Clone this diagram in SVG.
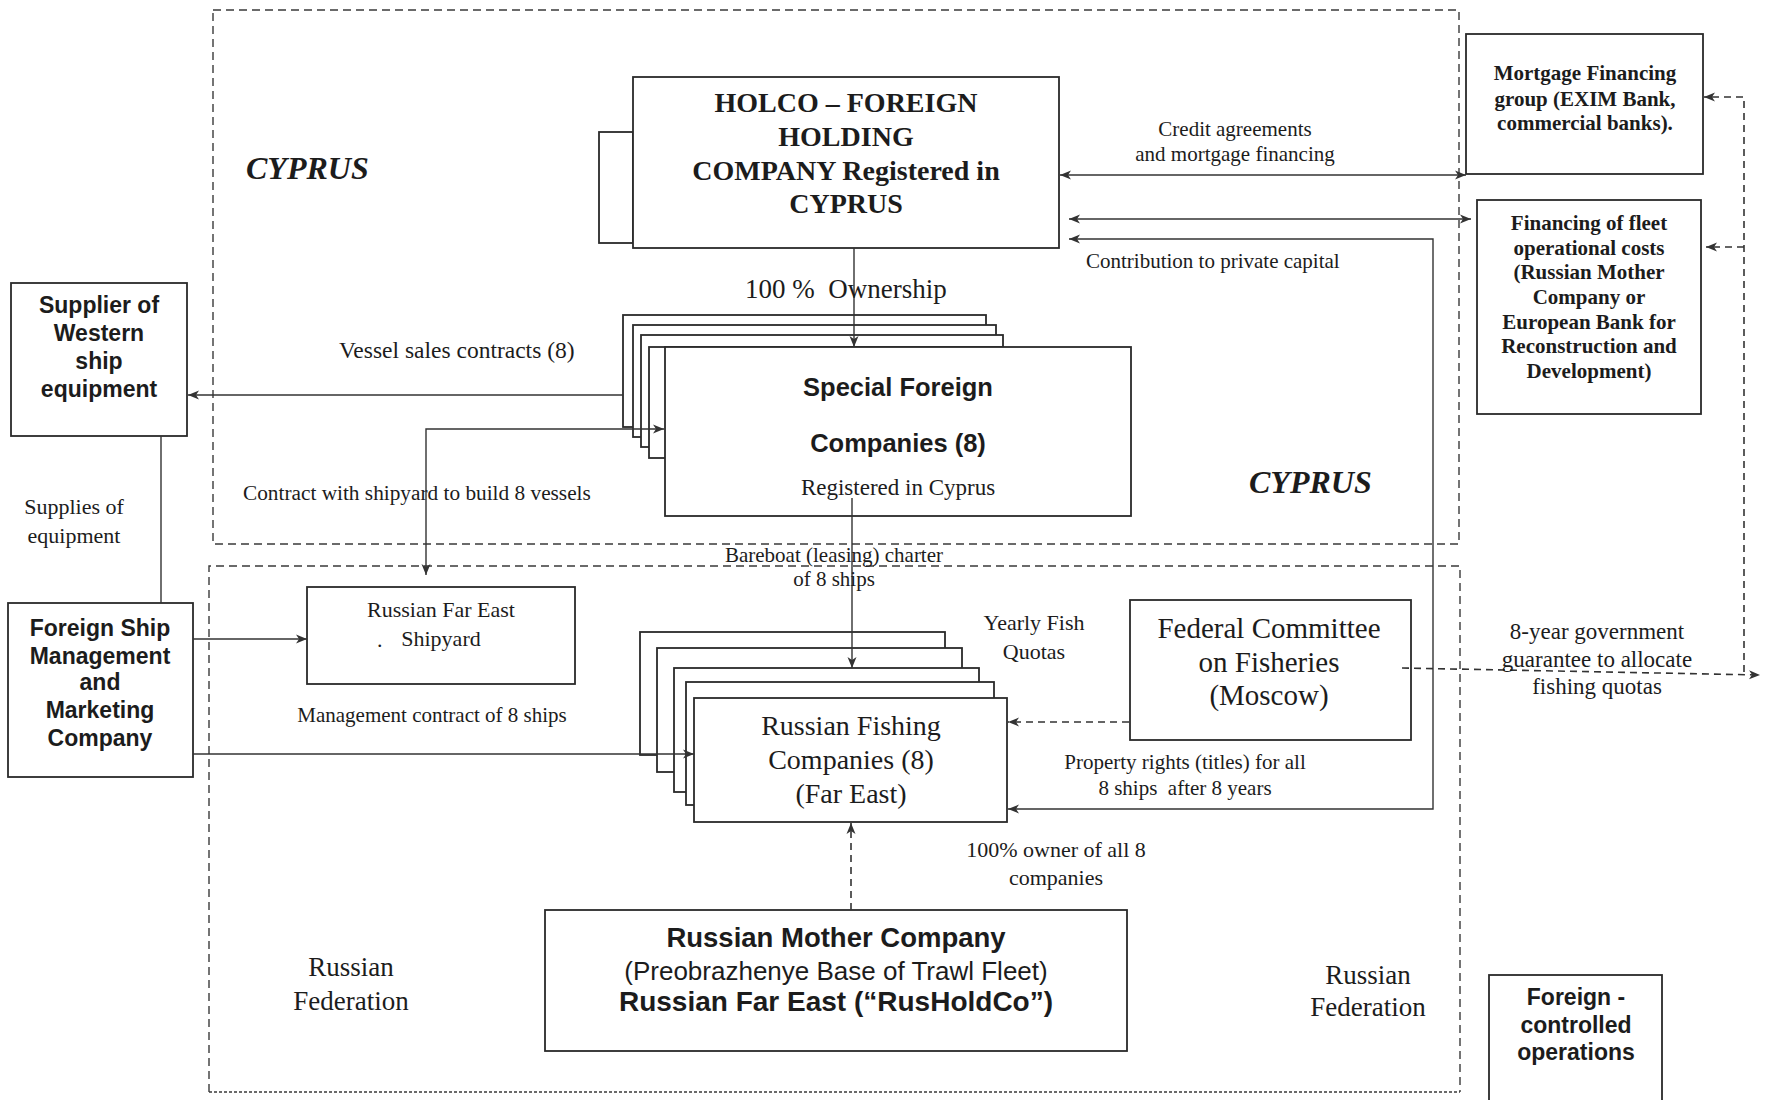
<svg xmlns="http://www.w3.org/2000/svg" width="1766" height="1100" viewBox="0 0 1766 1100">
<style>
text{fill:#1c1c1c}
.serif{font-family:"Liberation Serif","Times New Roman",serif}
.sans{font-family:"Liberation Sans",Arial,sans-serif}
.b{font-weight:bold}
.box{fill:#fff;stroke:#2a2a2a;stroke-width:1.8}
.region{fill:none;stroke:#3a3a3a;stroke-width:1.4;stroke-dasharray:8 5}
.dotted{fill:none;stroke:#3a3a3a;stroke-width:1.6;stroke-dasharray:3 2}
.con{fill:none;stroke:#333;stroke-width:1.4}
.dash{fill:none;stroke:#333;stroke-width:1.6;stroke-dasharray:7 5}
.c{text-anchor:middle}
</style>
<defs>
<marker id="arr" markerUnits="userSpaceOnUse" markerWidth="12" markerHeight="10" viewBox="0 0 12 10" refX="11" refY="5" orient="auto-start-reverse">
<path d="M0,0.5 L11,5 L0,9.5 L3,5 Z" fill="#333"/>
</marker>
</defs>
<rect width="1766" height="1100" fill="#fff"/>

<g id="regions">
<rect class="region" x="213" y="10" width="1246" height="534"/>
<path class="region" d="M209,1092 L209,566 L1460,566 L1460,1092"/>
<line class="dotted" x1="209" y1="1092" x2="1460" y2="1092"/>
<text class="serif b" x="246" y="179" font-size="32" font-style="italic">CYPRUS</text>
<text class="serif b" x="1249" y="493" font-size="32" font-style="italic">CYPRUS</text>
<text class="serif c" x="351" y="976" font-size="27">Russian</text>
<text class="serif c" x="351" y="1010" font-size="27">Federation</text>
<text class="serif c" x="1368" y="984" font-size="27">Russian</text>
<text class="serif c" x="1368" y="1016" font-size="27">Federation</text>
</g>

<g id="holco">
<rect class="box" x="599" y="132" width="34" height="111"/>
<rect class="box" x="633" y="77" width="426" height="171"/>
<text class="serif b c" x="846" y="112" font-size="28">HOLCO – FOREIGN</text>
<text class="serif b c" x="846" y="146" font-size="28">HOLDING</text>
<text class="serif b c" x="846" y="180" font-size="28">COMPANY Registered in</text>
<text class="serif b c" x="846" y="213" font-size="28">CYPRUS</text>
</g>

<g id="special-foreign">
<rect class="box" x="623" y="315" width="363" height="112"/>
<rect class="box" x="633" y="325" width="363" height="112"/>
<rect class="box" x="641" y="335" width="362" height="112"/>
<rect class="box" x="649" y="347" width="354" height="111"/>
<rect class="box" x="665" y="347" width="466" height="169"/>
<text class="sans b c" x="898" y="396" font-size="25.5">Special Foreign</text>
<text class="sans b c" x="898" y="452" font-size="25.5">Companies (8)</text>
<text class="serif c" x="898" y="495" font-size="23">Registered in Cyprus</text>
</g>

<g id="supplier">
<rect class="box" x="11" y="283" width="176" height="153"/>
<text class="sans b c" x="99" y="313" font-size="23">Supplier of</text>
<text class="sans b c" x="99" y="341" font-size="23">Western</text>
<text class="sans b c" x="99" y="369" font-size="23">ship</text>
<text class="sans b c" x="99" y="397" font-size="23">equipment</text>
</g>

<g id="foreign-ship-mgmt">
<rect class="box" x="8" y="603" width="185" height="174"/>
<text class="sans b c" x="100" y="636" font-size="23">Foreign Ship</text>
<text class="sans b c" x="100" y="664" font-size="23">Management</text>
<text class="sans b c" x="100" y="690" font-size="23">and</text>
<text class="sans b c" x="100" y="718" font-size="23">Marketing</text>
<text class="sans b c" x="100" y="746" font-size="23">Company</text>
</g>

<g id="shipyard">
<rect class="box" x="307" y="587" width="268" height="97"/>
<text class="serif c" x="441" y="617" font-size="22">Russian Far East</text>
<text class="serif" x="377" y="647" font-size="22">.</text>
<text class="serif c" x="441" y="646" font-size="22">Shipyard</text>
</g>

<g id="russian-fishing">
<rect class="box" x="640" y="632" width="305" height="123"/>
<rect class="box" x="657" y="648" width="305" height="124"/>
<rect class="box" x="674" y="668" width="305" height="124"/>
<rect class="box" x="686" y="682" width="308" height="123"/>
<rect class="box" x="694" y="698" width="313" height="124"/>
<text class="serif c" x="851" y="735" font-size="28">Russian Fishing</text>
<text class="serif c" x="851" y="769" font-size="28">Companies (8)</text>
<text class="serif c" x="851" y="803" font-size="28">(Far East)</text>
</g>

<g id="federal-committee">
<rect class="box" x="1130" y="600" width="281" height="140"/>
<text class="serif c" x="1269" y="638" font-size="29">Federal Committee</text>
<text class="serif c" x="1269" y="672" font-size="29">on Fisheries</text>
<text class="serif c" x="1269" y="705" font-size="29">(Moscow)</text>
</g>

<g id="mother-company">
<rect class="box" x="545" y="910" width="582" height="141"/>
<text class="sans b c" x="836" y="947" font-size="27.5">Russian Mother Company</text>
<text class="sans c" x="836" y="980" font-size="26">(Preobrazhenye Base of Trawl Fleet)</text>
<text class="sans b c" x="836" y="1011" font-size="28">Russian Far East (“RusHoldCo”)</text>
</g>

<g id="mortgage">
<rect class="box" x="1466" y="34" width="237" height="140"/>
<text class="serif b c" x="1585" y="80" font-size="21">Mortgage Financing</text>
<text class="serif b c" x="1585" y="106" font-size="21">group (EXIM Bank,</text>
<text class="serif b c" x="1585" y="130" font-size="21">commercial banks).</text>
</g>

<g id="financing">
<rect class="box" x="1477" y="200" width="224" height="214"/>
<text class="serif b c" x="1589" y="230" font-size="21">Financing of fleet</text>
<text class="serif b c" x="1589" y="255" font-size="21">operational costs</text>
<text class="serif b c" x="1589" y="279" font-size="21">(Russian Mother</text>
<text class="serif b c" x="1589" y="304" font-size="21">Company or</text>
<text class="serif b c" x="1589" y="329" font-size="21">European Bank for</text>
<text class="serif b c" x="1589" y="353" font-size="21">Reconstruction and</text>
<text class="serif b c" x="1589" y="378" font-size="21">Development)</text>
</g>

<g id="foreign-controlled">
<rect class="box" x="1489" y="975" width="173" height="130"/>
<text class="sans b c" x="1576" y="1005" font-size="23">Foreign -</text>
<text class="sans b c" x="1576" y="1033" font-size="23">controlled</text>
<text class="sans b c" x="1576" y="1060" font-size="23">operations</text>
</g>

<g id="connectors">
<line class="con" x1="854" y1="248" x2="854" y2="347" marker-end="url(#arr)"/>
<line class="con" x1="623" y1="395" x2="188" y2="395" marker-end="url(#arr)"/>
<path class="con" d="M426,575 L426,429 L664,429" marker-start="url(#arr)" marker-end="url(#arr)"/>
<line class="con" x1="161" y1="436" x2="161" y2="603"/>
<line class="con" x1="193" y1="639" x2="307" y2="639" marker-end="url(#arr)"/>
<line class="con" x1="193" y1="754" x2="694" y2="754" marker-end="url(#arr)"/>
<line class="con" x1="1060" y1="175" x2="1466" y2="175" marker-start="url(#arr)" marker-end="url(#arr)"/>
<line class="con" x1="1069" y1="219" x2="1471" y2="219" marker-start="url(#arr)" marker-end="url(#arr)"/>
<path class="con" d="M1069,239 L1433,239 L1433,809 L1008,809" marker-start="url(#arr)" marker-end="url(#arr)"/>
<line class="con" x1="852" y1="498" x2="852" y2="668" marker-end="url(#arr)"/>
<line class="dash" x1="1129" y1="722" x2="1008" y2="722" marker-end="url(#arr)"/>
<line class="dash" x1="851" y1="910" x2="851" y2="823" marker-end="url(#arr)"/>
<line class="dash" x1="1402" y1="668" x2="1760" y2="675" marker-end="url(#arr)"/>
<path class="dash" d="M1744,672 L1744,97 L1704,97" marker-end="url(#arr)"/>
<line class="dash" x1="1744" y1="247" x2="1706" y2="247" marker-end="url(#arr)"/>
</g>

<g id="labels">
<text class="serif" x="745" y="298" font-size="27" xml:space="preserve">100 %  Ownership</text>
<text class="serif" x="339" y="358" font-size="23.5">Vessel sales contracts (8)</text>
<text class="serif" x="243" y="500" font-size="21.3">Contract with shipyard to build 8 vessels</text>
<text class="serif c" x="74" y="514" font-size="22">Supplies of</text>
<text class="serif c" x="74" y="543" font-size="22">equipment</text>
<text class="serif c" x="1235" y="136" font-size="21">Credit agreements</text>
<text class="serif c" x="1235" y="161" font-size="21">and mortgage financing</text>
<text class="serif" x="1086" y="268" font-size="21">Contribution to private capital</text>
<text class="serif c" x="834" y="562" font-size="21">Bareboat (leasing) charter</text>
<text class="serif c" x="834" y="586" font-size="21">of 8 ships</text>
<text class="serif c" x="432" y="722" font-size="21">Management contract of 8 ships</text>
<text class="serif c" x="1034" y="630" font-size="22">Yearly Fish</text>
<text class="serif c" x="1034" y="659" font-size="22">Quotas</text>
<text class="serif c" x="1597" y="639" font-size="23">8-year government</text>
<text class="serif c" x="1597" y="667" font-size="23">guarantee to allocate</text>
<text class="serif c" x="1597" y="694" font-size="23">fishing quotas</text>
<text class="serif c" x="1185" y="769" font-size="21">Property rights (titles) for all</text>
<text class="serif c" x="1185" y="795" font-size="21" xml:space="preserve">8 ships  after 8 years</text>
<text class="serif c" x="1056" y="857" font-size="22">100% owner of all 8</text>
<text class="serif c" x="1056" y="885" font-size="22">companies</text>
</g>
</svg>
